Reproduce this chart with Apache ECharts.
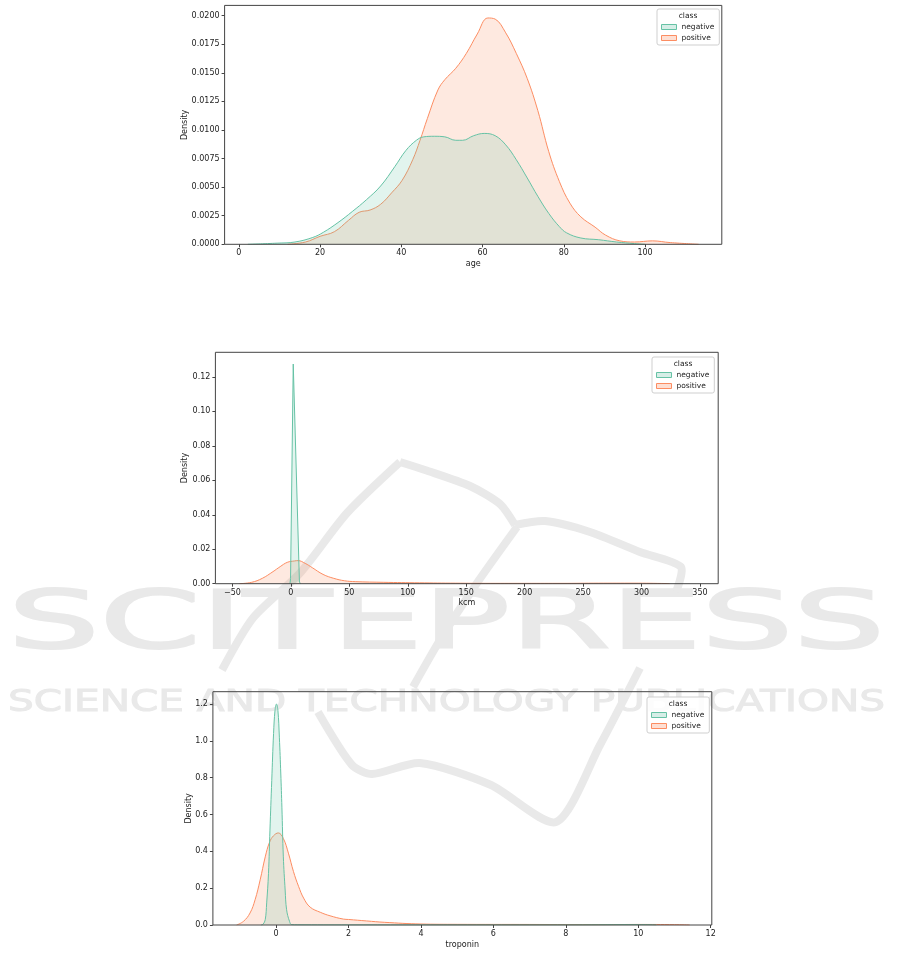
<!DOCTYPE html>
<html>
<head>
<meta charset="utf-8">
<script src="https://cdn.jsdelivr.net/npm/echarts@6/dist/echarts.min.js"></script>
<style>
html,body{margin:0;padding:0;background:#fff;}
#chart{width:901px;height:954px;}
</style>
</head>
<body>
<div id="chart"></div>
<script>
// ---------- data ----------
const ageNegative = [[2.2,0],[9.4,0.0001],[13.8,0.0002],[18.2,0.0006],[20.8,0.00105],[24.4,0.0019],[27.9,0.00286],[31.4,0.0039],[34.9,0.0051],[38.4,0.0068],[41.1,0.0082],[43.7,0.0091],[45.5,0.0094],[48.1,0.00945],[50.7,0.0094],[53.4,0.0091],[55.1,0.0091],[57.8,0.0095],[60.4,0.0097],[63.1,0.0095],[65.7,0.0087],[68.3,0.0074],[71,0.0058],[73.6,0.0042],[76.3,0.0027],[78.9,0.00155],[80.7,0.001],[84.2,0.00055],[88.6,0.0004],[93,0.0002],[97.4,0.00006],[100,0]];
const agePositive = [[12,0],[16.4,0.0002],[20,0.0007],[23.5,0.0011],[27,0.0021],[29.6,0.0028],[32.3,0.0030],[34.9,0.0035],[37.6,0.0045],[40.2,0.0056],[42.8,0.0074],[44.6,0.0091],[46.4,0.0110],[49,0.0135],[50.7,0.0144],[53.4,0.0154],[56,0.0167],[58.7,0.0184],[61.3,0.0198],[63.1,0.0197],[65.7,0.0185],[68.3,0.0167],[71,0.0145],[73.6,0.0117],[76.3,0.0081],[78.9,0.0055],[81.5,0.0036],[84.2,0.0024],[87.7,0.0015],[90.3,0.0008],[93.8,0.0003],[97.4,0.0002],[101.8,0.0003],[106.2,0.00015],[113.2,0]];
const kcmNegative = [[-0.8,0],[-0.3,0.003],[2.0,0.1275],[7.3,0.001],[8.2,0]];
const kcmPositive = [[-44,0],[-33.6,0.0008],[-24.5,0.0031],[-15.3,0.0070],[-9.2,0.0099],[-3.1,0.0124],[3.1,0.0132],[6.1,0.0134],[12.2,0.0118],[18.3,0.0093],[27.5,0.0054],[36.7,0.0031],[45.9,0.0017],[55,0.0012],[79.5,0.0008],[110,0.0005],[140.7,0.0003],[171,0.0002],[201.8,0.0002],[232,0.0002],[263,0.0003],[293.6,0.0003],[321,0.0001],[324,0]];
const tropNegative = [[-0.42,0],[-0.36,0.004],[-0.30,0.029],[-0.26,0.12],[-0.21,0.28],[-0.17,0.515],[-0.12,0.785],[-0.07,1.04],[-0.03,1.165],[0.01,1.2],[0.05,1.165],[0.09,1.02],[0.13,0.82],[0.16,0.64],[0.2,0.37],[0.25,0.19],[0.29,0.083],[0.37,0.02],[0.43,0.002],[0.6,0.001],[2,0.0005],[5,0.0005],[8,0.0005],[9.8,0.002],[10.2,0.002],[10.5,0]];
const tropPositive = [[-1.09,0],[-0.9,0.02],[-0.72,0.065],[-0.58,0.137],[-0.44,0.245],[-0.30,0.37],[-0.18,0.45],[-0.07,0.485],[0.06,0.50],[0.2,0.47],[0.34,0.39],[0.48,0.29],[0.62,0.21],[0.76,0.146],[0.94,0.097],[1.22,0.069],[1.49,0.05],[1.86,0.032],[2.0,0.03],[2.5,0.022],[3.0,0.0145],[4.0,0.0054],[5.0,0.0036],[7.0,0.003],[9.0,0.002],[10.0,0.003],[11.0,0.002],[11.42,0]];

const ageTicksX = [0,20,40,60,80,100];
const ageTicksY = [0,0.0025,0.005,0.0075,0.01,0.0125,0.015,0.0175,0.02];
const kcmTicksX = [-50,0,50,100,150,200,250,300,350];
const kcmTicksY = [0,0.02,0.04,0.06,0.08,0.10,0.12];
const tropTicksX = [0,2,4,6,8,10,12];
const tropTicksY = [0,0.2,0.4,0.6,0.8,1.0,1.2];
const classNames = ['negative','positive'];
const axisNames = ['age','kcm','troponin'];

// ---------- styling ----------
const FONT = 'DejaVu Sans';
const GREEN = '#66c2a5', ORANGE = '#fc8d62';
const GREEN_FILL = 'rgba(102,194,165,0.27)', ORANGE_FILL = 'rgba(252,141,98,0.28)';
const TXT = '#222', SPINE = '#444';
const WM = '#e9e9e9';

const grids = [
  {left:224.6, top:5.4, width:497.2, height:238.9},
  {left:215.4, top:352.3, width:502.8, height:231.4},
  {left:212.9, top:691.7, width:498.9, height:233.3}
].map(g => Object.assign({show:true, borderColor:SPINE, borderWidth:1, backgroundColor:'transparent', z:6}, g));

const minus = s => String(s).replace('-', '\u2212');

function xAxis(gi, min, max, ticks, name, gap) {
  return {type:'value', gridIndex:gi, min, max, name, nameLocation:'middle', nameGap:gap, z:6,
    nameTextStyle:{fontSize:8, color:TXT, fontFamily:FONT},
    axisLine:{show:false, onZero:false}, splitLine:{show:false},
    axisTick:{show:true, length:3, lineStyle:{color:SPINE}, customValues:ticks},
    axisLabel:{customValues:ticks, fontSize:8, color:TXT, fontFamily:FONT, margin:5, formatter:v => minus(v)}};
}
function yAxis(gi, max, ticks, dec, gap) {
  return {type:'value', gridIndex:gi, min:0, max, name:'Density', nameLocation:'middle', nameGap:gap, z:6,
    nameMoveOverlap:false,
    nameTextStyle:{fontSize:8, color:TXT, fontFamily:FONT},
    axisLine:{show:false, onZero:false}, splitLine:{show:false},
    axisTick:{show:true, length:3, lineStyle:{color:SPINE}, customValues:ticks},
    axisLabel:{customValues:ticks, fontSize:8, color:TXT, fontFamily:FONT, margin:5, formatter:v => v.toFixed(dec)}};
}
function kde(gi, name, data, color, fill, z, smooth) {
  return {type:'line', name, xAxisIndex:gi, yAxisIndex:gi, data, symbol:'none', smooth:smooth,
    lineStyle:{color, width:1}, itemStyle:{color}, areaStyle:{color:fill}, z, animation:false, silent:true};
}

const legendPos = [{left:657, top:9}, {left:652, top:357}, {left:647, top:697}];
const legendW = 62;
const legends = legendPos.map(p => ({
  orient:'vertical', left:p.left, top:p.top, padding:[14,5,3,4], itemWidth:15, itemHeight:5, itemGap:3,
  textStyle:{fontSize:7.5, color:TXT, fontFamily:FONT}, borderColor:'#cfcfcf', borderWidth:1, borderRadius:2,
  backgroundColor:'rgba(255,255,255,0.85)', selectedMode:false, z:10,
  data:[
    {name:classNames[0], icon:'rect', itemStyle:{color:GREEN_FILL, borderColor:GREEN, borderWidth:1}},
    {name:classNames[1], icon:'rect', itemStyle:{color:ORANGE_FILL, borderColor:ORANGE, borderWidth:1}}
  ]
}));

function measure(text, font) {
  const c = document.createElement('canvas').getContext('2d');
  c.font = font; return c.measureText(text).width;
}
const bigFont = '80px "DejaVu Sans"', smallFont = '30px "DejaVu Sans"';
const bigText = 'SCITEPRESS', smallText = 'SCIENCE AND TECHNOLOGY PUBLICATIONS';
const bigSx = 877 / measure(bigText, bigFont);
const smallSx = 877 / measure(smallText, smallFont);

const logo = [
  [[222,670],[253,618],[300,573],[347,513],[400,462]],
  [[400,462],[425,470],[470,486],[500,504],[515,525]],
  [[515,525],[545,521],[590,532],[640,552],[681,567],[676,592]],
  [[517,527],[477,583],[440,640],[413,687]],
  [[318,712],[352,765],[372,774],[420,763],[491,785],[556,822],[600,745],[640,668]]
];

const graphics = [
  {type:'text', x:8, y:627, scaleX:bigSx, z:1, silent:true,
   style:{text:bigText, font:bigFont, fill:WM, stroke:WM, lineWidth:2, align:'left', verticalAlign:'middle'}},
  {type:'text', x:8, y:703, scaleX:smallSx, z:1, silent:true,
   style:{text:smallText, font:smallFont, fill:WM, stroke:WM, lineWidth:1, align:'left', verticalAlign:'middle'}}
].concat(logo.map(pts => ({type:'polyline', z:1, silent:true, shape:{points:pts, smooth:0.25},
   style:{stroke:WM, lineWidth:8, fill:null, lineJoin:'round', lineCap:'butt'}})))
 .concat(legendPos.map(p => ({type:'text', x:p.left + legendW/2, y:p.top + 7, z:20, silent:true,
   style:{text:'class', font:'7.5px "DejaVu Sans"', fill:TXT, align:'center', verticalAlign:'middle'}})));

const option = {
  animation:false,
  backgroundColor:'#fff',
  grid: grids,
  xAxis: [
    xAxis(0, -3.52, 118.9, ageTicksX, axisNames[0], 16),
    xAxis(1, -64.6, 365.6, kcmTicksX, axisNames[1], 15),
    xAxis(2, -1.745, 12.03, tropTicksX, axisNames[2], 16)
  ],
  yAxis: [
    yAxis(0, 0.0209, ageTicksY, 4, 36),
    yAxis(1, 0.1343, kcmTicksY, 2, 26),
    yAxis(2, 1.267, tropTicksY, 1, 20)
  ],
  legend: legends,
  graphic: {elements: graphics},
  series: [
    kde(0, classNames[1], agePositive, ORANGE, ORANGE_FILL, 2, 0.4),
    kde(0, classNames[0], ageNegative, GREEN, GREEN_FILL, 3, 0.4),
    kde(1, classNames[1], kcmPositive, ORANGE, ORANGE_FILL, 2, 0.4),
    kde(1, classNames[0], kcmNegative, GREEN, GREEN_FILL, 3, false),
    kde(2, classNames[1], tropPositive, ORANGE, ORANGE_FILL, 2, 0.4),
    kde(2, classNames[0], tropNegative, GREEN, GREEN_FILL, 3, 0.4)
  ]
};
const chart = echarts.init(document.getElementById('chart'), null, {renderer:'canvas'});
chart.setOption(option);
</script>
</body>
</html>
